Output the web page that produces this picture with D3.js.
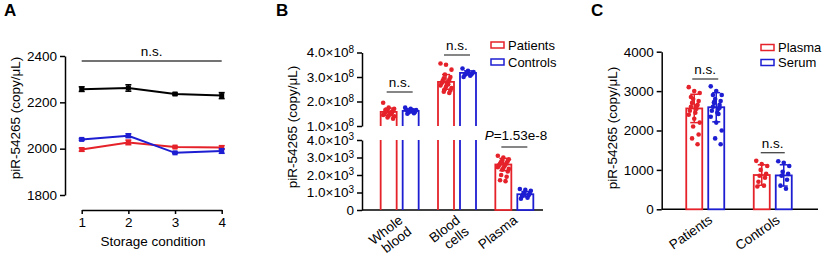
<!DOCTYPE html>
<meta charset="utf-8">
<script src="https://d3js.org/d3.v7.min.js"></script>
<style>
  body { margin: 0; background: #fff; }
  text { font-family: "Liberation Sans", Arial, sans-serif; fill: #000; }
</style>
<div id="chart"></div>
<script>

// ---------- data ----------
// panel A: storage conditions
var conditions = [1, 2, 3, 4];
var blackMean = [2257, 2262, 2236, 2229];
var blackErr  = [10, 14, 4, 13];
var redMean   = [1996, 2027, 2007, 2005];
var redErr    = [7, 10, 3, 8];
var blueMean  = [2040, 2056, 1982, 1990];
var blueErr   = [4, 8, 3, 10];

// panel B: sample types (blood in 1e8 units, plasma in 1e3 units)
var sampleTypes = [["Whole", "blood"], ["Blood", "cells"], ["Plasma"]];
var bPatientMean = [1.58e8, 2.80e8, 2.60e3];
var bPatientSd   = [0.15e8, 0.30e8, 0.35e3];
var bControlMean = [1.62e8, 3.17e8, 0.90e3];
var bControlSd   = [0.08e8, 0.08e8, 0.15e3];
var bPatientDots = [
  [1.95, 1.75, 1.70, 1.65, 1.62, 1.60, 1.58, 1.55, 1.52, 1.50, 1.48, 1.45, 1.42, 1.40, 1.35, 1.30, 1.60, 1.55, 1.65, 1.50].map(function(v){ return v * 1e8; }),
  [3.55, 3.50, 3.30, 3.10, 3.00, 2.95, 2.90, 2.85, 2.80, 2.75, 2.70, 2.65, 2.60, 2.55, 2.50, 2.45, 2.40, 2.35, 2.80, 2.70].map(function(v){ return v * 1e8; }),
  [3.10, 3.00, 2.90, 2.85, 2.80, 2.75, 2.70, 2.65, 2.60, 2.55, 2.50, 2.45, 2.40, 2.35, 2.30, 2.20, 2.00, 1.90, 1.70, 1.65].map(function(v){ return v * 1e3; })
];
var bControlDots = [
  [1.75, 1.70, 1.65, 1.60, 1.58, 1.55, 1.52, 1.50, 1.62, 1.66].map(function(v){ return v * 1e8; }),
  [3.35, 3.25, 3.20, 3.18, 3.15, 3.12, 3.10, 3.08, 3.05, 3.00].map(function(v){ return v * 1e8; }),
  [1.20, 1.15, 1.10, 1.00, 0.95, 0.90, 0.85, 0.80, 0.70, 0.65].map(function(v){ return v * 1e3; })
];

// panel C: plasma vs serum
var groupsC = ["Patients", "Controls"];
var plasmaMean = [2560, 870];
var plasmaSd   = [360, 260];
var serumMean  = [2590, 860];
var serumSd    = [370, 270];
var plasmaDots = [
  [3100, 3000, 2950, 2800, 2750, 2700, 2650, 2600, 2550, 2500, 2450, 2400, 2300, 2200, 2100, 1900, 1800, 1650, 2850, 2620],
  [1230, 1150, 1100, 1000, 900, 850, 800, 700, 600, 580]
];
var serumDots = [
  [3120, 3000, 2900, 2800, 2750, 2700, 2650, 2600, 2550, 2500, 2450, 2350, 2200, 2000, 1800, 1650, 2720, 2580, 2900, 2420],
  [1220, 1180, 1100, 950, 900, 850, 750, 600, 520]
];

var RED = "#e5222a", BLUE = "#1d1dd2";

var svg = d3.select("#chart").append("svg")
  .attr("width", 825).attr("height", 256);

function styleAxis(g) {
  g.selectAll("path, line").attr("stroke", "#000").attr("stroke-width", 1.5);
  g.selectAll("text").style("font-size", "13.5px").attr("fill", "#000");
}

function jitter(i) { return ((i * 5) % 11 - 5) * 1.1; }

// ---------- panel A ----------
var xA = d3.scaleLinear().domain([1, 4]).range([81.7, 221.7]);
var yA = d3.scaleLinear().domain([1800, 2400]).range([195, 56]);

svg.append("g").attr("transform", "translate(65,0)")
  .call(d3.axisLeft(yA).tickValues([1800, 2000, 2200, 2400]).tickFormat(d3.format("d")).tickSize(5).tickSizeOuter(0).tickPadding(3))
  .call(styleAxis);
svg.append("g").attr("transform", "translate(0,210)")
  .call(d3.axisBottom(xA).tickValues(conditions).tickSize(4).tickSizeOuter(0).tickFormat(d3.format("d")).tickPadding(3))
  .call(styleAxis);

svg.append("text").attr("x", 153).attr("y", 246).attr("text-anchor", "middle")
  .style("font-size", "13.5px").text("Storage condition");
svg.append("text").attr("transform", "translate(20,118) rotate(-90)").attr("text-anchor", "middle")
  .style("font-size", "13.5px").text("piR-54265 (copy/μL)");

var lineA = d3.line().x(function(d, i){ return xA(conditions[i]); }).y(function(d){ return yA(d); });
[[blackMean, blackErr, "#000"], [redMean, redErr, RED], [blueMean, blueErr, BLUE]].forEach(function(s) {
  var g = svg.append("g");
  g.append("path").datum(s[0]).attr("d", lineA).attr("fill", "none").attr("stroke", s[2]).attr("stroke-width", 2);
  s[0].forEach(function(m, i) {
    var x = xA(conditions[i]);
    g.append("line").attr("x1", x).attr("x2", x).attr("y1", yA(m - s[1][i])).attr("y2", yA(m + s[1][i]))
      .attr("stroke", s[2]).attr("stroke-width", 1.5);
    [m - s[1][i], m + s[1][i]].forEach(function(v) {
      g.append("line").attr("x1", x - 3).attr("x2", x + 3).attr("y1", yA(v)).attr("y2", yA(v))
        .attr("stroke", s[2]).attr("stroke-width", 1.5);
    });
    g.append("rect").attr("x", x - 2.5).attr("y", yA(m) - 2.5).attr("width", 5).attr("height", 5).attr("fill", s[2]);
  });
});
svg.append("line").attr("x1", xA(1)).attr("x2", xA(4)).attr("y1", 61).attr("y2", 61)
  .attr("stroke", "#444").attr("stroke-width", 1.3);
svg.append("text").attr("x", (xA(1) + xA(4)) / 2).attr("y", 56).attr("text-anchor", "middle")
  .style("font-size", "13.5px").text("n.s.");
svg.append("text").attr("x", 4).attr("y", 16).style("font-size", "17px").style("font-weight", "bold").text("A");

// ---------- panel B ----------
var axB = 362;
var xB = d3.scaleBand().domain([0, 1, 2]).range([371, 543]);
var yBUp = d3.scaleLinear().domain([1e8, 4e8]).range([126, 52.5]);
var yBLo = d3.scaleLinear().domain([0, 4e3]).range([210, 140]);

function sciTicks(g, exp) {
  g.selectAll(".tick text").each(function(d) {
    var t = d3.select(this).text("");
    if (d === 0) { t.text("0"); return; }
    t.append("tspan").text((d / Math.pow(10, exp)).toFixed(1) + "×10");
    t.append("tspan").attr("dy", "-0.45em").style("font-size", "10px").text(exp);
  });
}
svg.append("g").attr("transform", "translate(" + axB + ",0)")
  .call(d3.axisLeft(yBUp).tickValues([1e8, 2e8, 3e8, 4e8]).tickSize(5).tickSizeOuter(0).tickPadding(3))
  .call(styleAxis).call(sciTicks, 8);
svg.append("g").attr("transform", "translate(" + axB + ",0)")
  .call(d3.axisLeft(yBLo).tickValues([0, 1e3, 2e3, 3e3, 4e3]).tickSize(5).tickSizeOuter(0).tickPadding(3))
  .call(styleAxis).call(sciTicks, 3);
svg.append("line").attr("x1", axB).attr("x2", 543).attr("y1", 210).attr("y2", 210)
  .attr("stroke", "#000").attr("stroke-width", 1.5);

svg.append("text").attr("transform", "translate(297,127) rotate(-90)").attr("text-anchor", "middle")
  .style("font-size", "13.5px").text("piR-54265 (copy/μL)");

var barW = 16, off = 11;
function drawBarB(i, mean, sd, dots, color, dx) {
  var cx = xB(i) + xB.bandwidth() / 2 + dx;
  var x0 = cx - barW / 2, x1 = cx + barW / 2;
  var g = svg.append("g");
  var y = i < 2 ? yBUp : yBLo;
  if (i < 2) {
    g.append("path").attr("d", "M" + x0 + "," + yBUp(1e8) + "V" + yBUp(mean) + "H" + x1 + "V" + yBUp(1e8))
      .attr("fill", "#fff").attr("stroke", color).attr("stroke-width", 1.8);
    [x0, x1].forEach(function(x) {
      g.append("line").attr("x1", x).attr("x2", x).attr("y1", yBLo(4e3)).attr("y2", yBLo(0))
        .attr("stroke", color).attr("stroke-width", 1.8);
    });
  } else {
    g.append("rect").attr("x", x0).attr("y", yBLo(mean)).attr("width", barW).attr("height", yBLo(0) - yBLo(mean))
      .attr("fill", "#fff").attr("stroke", color).attr("stroke-width", 1.8);
  }
  dots.forEach(function(v, k) {
    g.append("circle").attr("cx", cx + jitter(k)).attr("cy", y(v)).attr("r", 2.3).attr("fill", color);
  });
  g.append("line").attr("x1", cx).attr("x2", cx).attr("y1", y(mean - sd)).attr("y2", y(mean + sd))
    .attr("stroke", color).attr("stroke-width", 1.5);
  [mean - sd, mean + sd].forEach(function(v) {
    g.append("line").attr("x1", cx - 4).attr("x2", cx + 4).attr("y1", y(v)).attr("y2", y(v))
      .attr("stroke", color).attr("stroke-width", 1.5);
  });
}
sampleTypes.forEach(function(lbl, i) {
  drawBarB(i, bPatientMean[i], bPatientSd[i], bPatientDots[i], RED, -off);
  drawBarB(i, bControlMean[i], bControlSd[i], bControlDots[i], BLUE, off);
  var cx = xB(i) + xB.bandwidth() / 2;
  var t = svg.append("text").attr("transform", "translate(" + (cx + 4) + ",222) rotate(-38)")
    .attr("text-anchor", "end").style("font-size", "13.5px");
  lbl.forEach(function(w, k) {
    t.append("tspan").attr("x", 0).attr("dy", k === 0 ? 0 : "1.05em").text(w);
  });
});

// significance marks
function sigMark(x1, x2, yLine, label) {
  svg.append("line").attr("x1", x1).attr("x2", x2).attr("y1", yLine).attr("y2", yLine)
    .attr("stroke", "#444").attr("stroke-width", 1.3);
  svg.append("text").attr("x", (x1 + x2) / 2).attr("y", yLine - 5).attr("text-anchor", "middle")
    .style("font-size", "13.5px").text(label);
}
var cB = function(i) { return xB(i) + xB.bandwidth() / 2; };
sigMark(cB(0) - 13, cB(0) + 13, 92, "n.s.");
sigMark(cB(1) - 13, cB(1) + 13, 55, "n.s.");
svg.append("line").attr("x1", cB(2) - 13).attr("x2", cB(2) + 13).attr("y1", 147).attr("y2", 147)
  .attr("stroke", "#444").attr("stroke-width", 1.3);
var pT = svg.append("text").attr("x", 516).attr("y", 140).attr("text-anchor", "middle").style("font-size", "13.5px");
pT.append("tspan").style("font-style", "italic").text("P");
pT.append("tspan").text("=1.53e-8");

// legend B
[["Patients", RED], ["Controls", BLUE]].forEach(function(d, k) {
  var y = 45 + k * 17;
  svg.append("rect").attr("x", 491).attr("y", y - 3).attr("width", 13).attr("height", 6)
    .attr("fill", "#fff").attr("stroke", d[1]).attr("stroke-width", 1.5);
  svg.append("text").attr("x", 508).attr("y", y + 4.5).style("font-size", "13px").text(d[0]);
});
svg.append("text").attr("x", 276).attr("y", 16).style("font-size", "17px").style("font-weight", "bold").text("B");

// ---------- panel C ----------
var axC = 661.7;
var xC = d3.scaleBand().domain(groupsC).range([671.5, 806.5]);
var yC = d3.scaleLinear().domain([0, 4000]).range([209.3, 51.7]);
svg.append("g").attr("transform", "translate(" + axC + ",0)")
  .call(d3.axisLeft(yC).tickValues([0, 1000, 2000, 3000, 4000]).tickFormat(d3.format("d")).tickSize(5).tickSizeOuter(0).tickPadding(3))
  .call(styleAxis);
svg.append("line").attr("x1", axC).attr("x2", 818).attr("y1", yC(0)).attr("y2", yC(0))
  .attr("stroke", "#000").attr("stroke-width", 1.5);
svg.append("text").attr("transform", "translate(617,128) rotate(-90)").attr("text-anchor", "middle")
  .style("font-size", "13.5px").text("piR-54265 (copy/μL)");

function drawBarC(i, mean, sd, dots, color, dx) {
  var cx = xC(groupsC[i]) + xC.bandwidth() / 2 + dx;
  var g = svg.append("g");
  g.append("rect").attr("x", cx - barW / 2).attr("y", yC(mean)).attr("width", barW).attr("height", yC(0) - yC(mean))
    .attr("fill", "#fff").attr("stroke", color).attr("stroke-width", 1.8);
  dots.forEach(function(v, k) {
    g.append("circle").attr("cx", cx + jitter(k)).attr("cy", yC(v)).attr("r", 2.3).attr("fill", color);
  });
  g.append("line").attr("x1", cx).attr("x2", cx).attr("y1", yC(mean - sd)).attr("y2", yC(mean + sd))
    .attr("stroke", color).attr("stroke-width", 1.5);
  [mean - sd, mean + sd].forEach(function(v) {
    g.append("line").attr("x1", cx - 4).attr("x2", cx + 4).attr("y1", yC(v)).attr("y2", yC(v))
      .attr("stroke", color).attr("stroke-width", 1.5);
  });
}
groupsC.forEach(function(grp, i) {
  drawBarC(i, plasmaMean[i], plasmaSd[i], plasmaDots[i], RED, -off);
  drawBarC(i, serumMean[i], serumSd[i], serumDots[i], BLUE, off);
  var cx = xC(grp) + xC.bandwidth() / 2;
  svg.append("text").attr("transform", "translate(" + (cx + 8) + ",222) rotate(-35)")
    .attr("text-anchor", "end").style("font-size", "13.5px").text(grp);
});
sigMark(xC("Patients") + xC.bandwidth() / 2 - 13, xC("Patients") + xC.bandwidth() / 2 + 13, 79, "n.s.");
sigMark(xC("Controls") + xC.bandwidth() / 2 - 12, xC("Controls") + xC.bandwidth() / 2 + 12, 152.7, "n.s.");

[["Plasma", RED], ["Serum", BLUE]].forEach(function(d, k) {
  var y = 47.5 + k * 15;
  svg.append("rect").attr("x", 761).attr("y", y - 3).attr("width", 13).attr("height", 6)
    .attr("fill", "#fff").attr("stroke", d[1]).attr("stroke-width", 1.5);
  svg.append("text").attr("x", 778).attr("y", y + 4.5).style("font-size", "13px").text(d[0]);
});
svg.append("text").attr("x", 591).attr("y", 16).style("font-size", "17px").style("font-weight", "bold").text("C");

</script>
